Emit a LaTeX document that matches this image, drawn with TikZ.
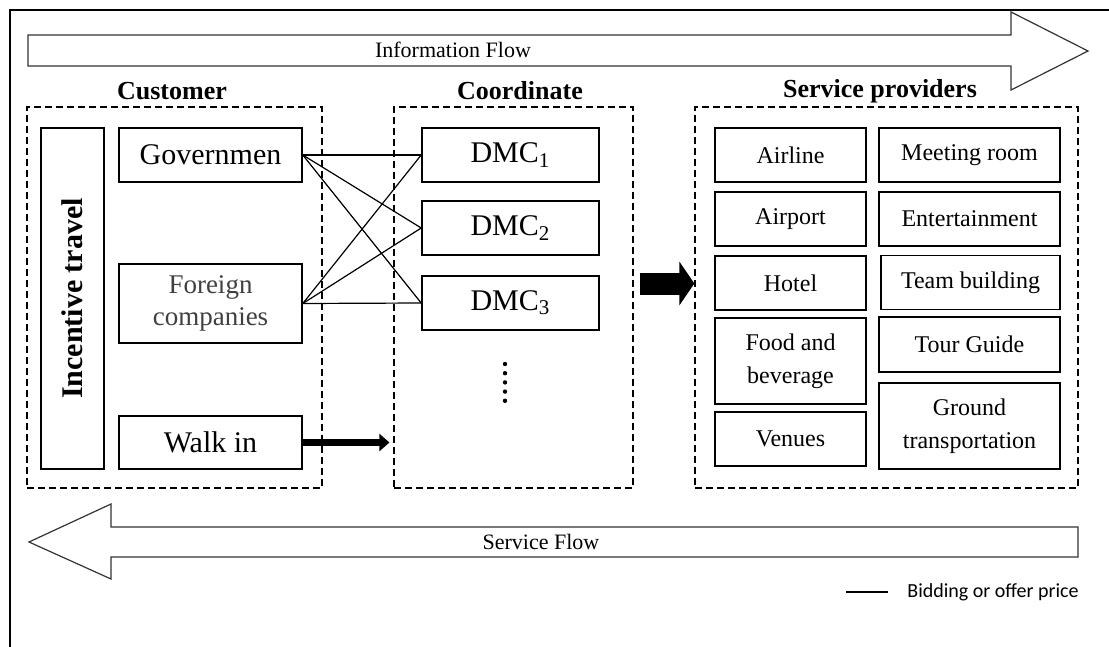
\documentclass[tikz,border=0pt]{standalone}
\usepackage{fontspec}
\setmainfont{Liberation Serif}
\newfontfamily\calibri{Carlito}
\usetikzlibrary{arrows.meta}

\tikzset{
  frameline/.style={line width=0.7pt},
  flowarrow/.style={draw=black!80, line width=0.6pt},
  flowtext/.style={font=\fontsize{11}{13}\selectfont},
  groupbox/.style={draw, line width=0.6pt, dash pattern=on 3.5pt off 2pt, minimum height=190.5pt},
  title/.style={font=\fontsize{13}{15}\selectfont\bfseries},
  item/.style={draw, line width=0.8pt, inner sep=0pt, align=center, minimum height=27pt},
  big/.style={font=\fontsize{15}{18}\selectfont},
  small/.style={font=\fontsize{12}{16.5}\selectfont},
  bid/.style={line width=0.6pt},
  heavy/.style={line width=3.5pt, -{Triangle[length=5pt,width=8.5pt]}},
}

\begin{document}
\begin{tikzpicture}[x=0.5pt,y=-0.5pt]
\useasboundingbox (0,0) rectangle (1109,647);
% frame
\draw[frameline] (10,647) -- (10,10) -- (1109,10);
% information flow
\draw[flowarrow] (28,35) -- (1011,35) -- (1011,12) -- (1088,51) -- (1011,90) -- (1011,66) -- (28,66) -- cycle;
\node[flowtext] (info) at (453,50) {Information Flow};
% groups
\node[groupbox, minimum width=147.5pt] (cust) at (174.5,297.5) {};
\node[groupbox, minimum width=119.5pt] (coord) at (513.5,297.5) {};
\node[groupbox, minimum width=191.5pt] (prov) at (886.5,297.5) {};
\node[title] (custt) at (172,91) {Customer};
\node[title] (coordt) at (520,91) {Coordinate};
\node[title] (provt) at (880,91) {Service providers};
% customer
\node[item, minimum width=31.5pt, minimum height=170.5pt, font=\fontsize{15}{18}\selectfont\bfseries] (incent) at (72.5,298.5) {\rotatebox{90}{Incentive travel}};
\node[item, big, minimum width=91.5pt] (gov) at (210.5,155) {Governmen};
\node[item, minimum width=91.5pt, minimum height=39.5pt, text=black!75, font=\fontsize{13.5}{16}\selectfont] (foreign) at (210.5,303.5) {Foreign\\companies};
\node[item, big, minimum width=91.5pt, minimum height=26.5pt] (walk) at (210.5,442.5) {Walk in};
% coordinate
\node[item, big, minimum width=88.5pt] (dmc1) at (510.5,155) {DMC\textsubscript{1}};
\node[item, big, minimum width=88.5pt] (dmc2) at (510.5,228) {DMC\textsubscript{2}};
\node[item, big, minimum width=88.5pt] (dmc3) at (510.5,303) {DMC\textsubscript{3}};
\draw[line width=2.2pt, line cap=round, dash pattern=on 0pt off 4.6pt] (505,364) -- (505,401);
% service providers
\node[item, small, minimum width=75.5pt] (airline) at (790.5,155) {Airline};
\node[item, small, minimum width=90.5pt] (meeting) at (969.5,155) {Meeting room};
\node[item, small, minimum width=75.5pt] (airport) at (790.5,219) {Airport};
\node[item, small, minimum width=90.5pt] (entert) at (969.5,219) {Entertainment};
\node[item, small, minimum width=75.5pt] (hotel) at (790.5,283) {Hotel};
\node[item, small, minimum width=89.5pt] (team) at (970.5,282.5) {Team building};
\node[item, small, minimum width=75.5pt, minimum height=43pt] (food) at (790.5,361) {Food and\\beverage};
\node[item, small, minimum width=90.5pt, minimum height=27.5pt] (tour) at (969.5,344.5) {Tour Guide};
\node[item, small, minimum width=75.5pt] (venues) at (790.5,439) {Venues};
\node[item, small, minimum width=90.5pt, minimum height=43pt] (ground) at (969.5,426) {Ground\\transportation};
% bidding lines
\foreach \c in {gov,foreign}
  \foreach \d in {dmc1,dmc2,dmc3}
    \draw[bid] (\c.east) -- (\d.west);
% arrows
\draw[heavy] (walk.east) -- ([xshift=-2pt]walk.east -| coord.west);
\draw[line width=11pt, -{Triangle[length=7.5pt,width=21.5pt]}] ([shift={(3pt,7pt)}]coord.east) -- ([yshift=7pt]prov.west);
% service flow
\draw[flowarrow] (1078,527) -- (111,527) -- (111,504) -- (29,542) -- (111,579) -- (111,557) -- (1078,557) -- cycle;
\node[flowtext] (service) at (541,542) {Service Flow};
% legend
\node[anchor=west, inner sep=0pt, font=\calibri\fontsize{10}{12}\selectfont] (bidkey) at (907,592) {Bidding or offer price};
\draw[bid] ([xshift=-9.5pt]bidkey.west) -- ++(-42,0);
\end{tikzpicture}
\end{document}
